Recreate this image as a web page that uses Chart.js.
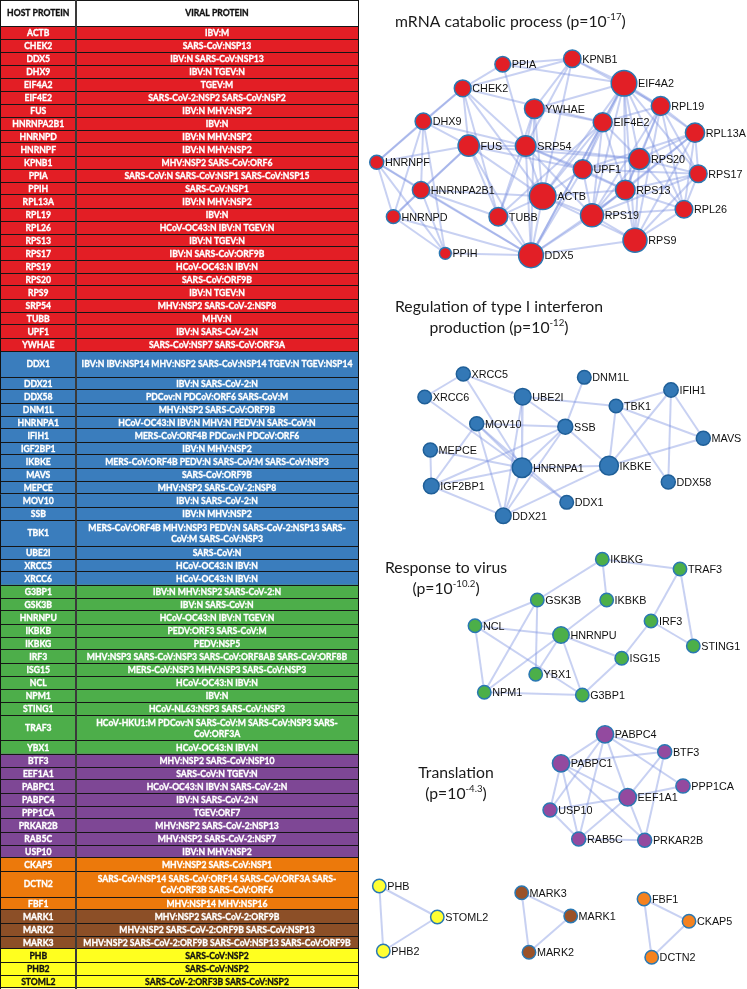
<!DOCTYPE html>
<html>
<head>
<meta charset="utf-8">
<script src="https://cdn.jsdelivr.net/npm/chart.js@4.4.1/dist/chart.umd.min.js"></script>
<style>
  html, body { margin: 0; padding: 0; background: #fff; }
  #page { position: relative; width: 747px; height: 989px; overflow: hidden; }
  #tableBox { position: absolute; left: 0; top: 0; width: 359px; height: 989px; }
  #netBox { position: absolute; left: 358px; top: 0; width: 389px; height: 989px; }
</style>
</head>
<body>
<div id="page">
  <div id="tableBox"><canvas id="tableChart"></canvas></div>
  <div id="netBox"><canvas id="netChart"></canvas></div>
</div>
<script>
// ---- table data ----
const hostProteins = [
  'ACTB', 'CHEK2', 'DDX5', 'DHX9', 'EIF4A2', 'EIF4E2', 'FUS', 'HNRNPA2B1', 'HNRNPD', 'HNRNPF', 'KPNB1', 'PPIA', 'PPIH',
  'RPL13A', 'RPL19', 'RPL26', 'RPS13', 'RPS17', 'RPS19', 'RPS20', 'RPS9', 'SRP54', 'TUBB', 'UPF1', 'YWHAE',
  'DDX1', 'DDX21', 'DDX58', 'DNM1L', 'HNRNPA1', 'IFIH1', 'IGF2BP1', 'IKBKE', 'MAVS', 'MEPCE', 'MOV10', 'SSB', 'TBK1',
  'UBE2I', 'XRCC5', 'XRCC6',
  'G3BP1', 'GSK3B', 'HNRNPU', 'IKBKB', 'IKBKG', 'IRF3', 'ISG15', 'NCL', 'NPM1', 'STING1', 'TRAF3', 'YBX1',
  'BTF3', 'EEF1A1', 'PABPC1', 'PABPC4', 'PPP1CA', 'PRKAR2B', 'RAB5C', 'USP10',
  'CKAP5', 'DCTN2', 'FBF1',
  'MARK1', 'MARK2', 'MARK3',
  'PHB', 'PHB2', 'STOML2'
];

const viralProteins = [
  'IBV:M', 'SARS-CoV:NSP13', 'IBV:N SARS-CoV:NSP13', 'IBV:N TGEV:N', 'TGEV:M', 'SARS-CoV-2:NSP2 SARS-CoV:NSP2',
  'IBV:N MHV:NSP2', 'IBV:N', 'IBV:N MHV:NSP2', 'IBV:N MHV:NSP2', 'MHV:NSP2 SARS-CoV:ORF6',
  'SARS-CoV:N SARS-CoV:NSP1 SARS-CoV:NSP15', 'SARS-CoV:NSP1', 'IBV:N MHV:NSP2', 'IBV:N', 'HCoV-OC43:N IBV:N TGEV:N',
  'IBV:N TGEV:N', 'IBV:N SARS-CoV:ORF9B', 'HCoV-OC43:N IBV:N', 'SARS-CoV:ORF9B', 'IBV:N TGEV:N',
  'MHV:NSP2 SARS-CoV-2:NSP8', 'MHV:N', 'IBV:N SARS-CoV-2:N', 'SARS-CoV:NSP7 SARS-CoV:ORF3A',
  'IBV:N IBV:NSP14 MHV:NSP2 SARS-CoV:NSP14 TGEV:N TGEV:NSP14', 'IBV:N SARS-CoV-2:N', 'PDCov:N PDCoV:ORF6 SARS-CoV:M',
  'MHV:NSP2 SARS-CoV:ORF9B', 'HCoV-OC43:N IBV:N MHV:N PEDV:N SARS-CoV:N', 'MERS-CoV:ORF4B PDCov:N PDCoV:ORF6',
  'IBV:N MHV:NSP2', 'MERS-CoV:ORF4B PEDV:N SARS-CoV:M SARS-CoV:NSP3', 'SARS-CoV:ORF9B', 'MHV:NSP2 SARS-CoV-2:NSP8',
  'IBV:N SARS-CoV-2:N', 'IBV:N MHV:NSP2', 'MERS-CoV:ORF4B MHV:NSP3 PEDV:N SARS-CoV-2:NSP13 SARS-\nCoV:M SARS-CoV:NSP3',
  'SARS-CoV:N', 'HCoV-OC43:N IBV:N', 'HCoV-OC43:N IBV:N',
  'IBV:N MHV:NSP2 SARS-CoV-2:N', 'IBV:N SARS-CoV:N', 'HCoV-OC43:N IBV:N TGEV:N', 'PEDV:ORF3 SARS-CoV:M', 'PEDV:NSP5',
  'MHV:NSP3 SARS-CoV:NSP3 SARS-CoV:ORF8AB SARS-CoV:ORF8B', 'MERS-CoV:NSP3 MHV:NSP3 SARS-CoV:NSP3', 'HCoV-OC43:N IBV:N',
  'IBV:N', 'HCoV-NL63:NSP3 SARS-CoV:NSP3', 'HCoV-HKU1:M PDCov:N SARS-CoV:M SARS-CoV:NSP3 SARS-\nCoV:ORF3A',
  'HCoV-OC43:N IBV:N',
  'MHV:NSP2 SARS-CoV:NSP10', 'SARS-CoV:N TGEV:N', 'HCoV-OC43:N IBV:N SARS-CoV-2:N', 'IBV:N SARS-CoV-2:N', 'TGEV:ORF7',
  'MHV:NSP2 SARS-CoV-2:NSP13', 'MHV:NSP2 SARS-CoV-2:NSP7', 'IBV:N MHV:NSP2',
  'MHV:NSP2 SARS-CoV:NSP1', 'SARS-CoV:NSP14 SARS-CoV:ORF14 SARS-CoV:ORF3A SARS-\nCoV:ORF3B SARS-CoV:ORF6',
  'MHV:NSP14 MHV:NSP16',
  'MHV:NSP2 SARS-CoV-2:ORF9B', 'MHV:NSP2 SARS-CoV-2:ORF9B SARS-CoV:NSP13',
  'MHV:NSP2 SARS-CoV-2:ORF9B SARS-CoV:NSP13 SARS-CoV:ORF9B',
  'SARS-CoV:NSP2', 'SARS-CoV:NSP2', 'SARS-CoV-2:ORF3B SARS-CoV:NSP2'
];

const tableHeaders = ['HOST PROTEIN', 'VIRAL PROTEIN'];
const clusterNames = ['red', 'blue', 'green', 'purple', 'orange', 'brown', 'yellow'];
const clusterSizes = [25, 16, 12, 8, 3, 3, 3];
const doubleRows = ['DDX1', 'TBK1', 'TRAF3', 'DCTN2'];

// ---- network data: [name, x, y, size] ----
const mrnaNodes = [
  ['PPIA', 502.7, 64.3, 7.8], ['KPNB1', 572.3, 58.7, 8.7], ['EIF4A2', 624, 83.3, 12.8], ['CHEK2', 462.7, 88.3, 8.4],
  ['YWHAE', 534.3, 108.7, 9.8], ['RPL19', 660.7, 106, 9.4], ['DHX9', 423.3, 121.3, 8.2], ['EIF4E2', 602.7, 122.3, 9.5],
  ['RPL13A', 695, 132.7, 9.6], ['FUS', 468.7, 145.7, 10.6], ['SRP54', 525.7, 146, 10.3], ['RPS20', 639.3, 159, 10.4],
  ['HNRNPF', 376.7, 162.3, 7], ['UPF1', 582.7, 169.3, 9.5], ['RPS17', 698.3, 173.7, 8.8], ['HNRNPA2B1', 421, 190, 8.6],
  ['RPS13', 625.3, 190, 9.8], ['ACTB', 542.7, 196.3, 13.3], ['RPL26', 684, 209.3, 8.8], ['HNRNPD', 393.3, 216.7, 6.9],
  ['TUBB', 498.3, 216.7, 9.3], ['RPS19', 592, 215.3, 11.5], ['RPS9', 635, 240.3, 12], ['PPIH', 445.3, 253.3, 5.9],
  ['DDX5', 531, 255.3, 12.4]
];
const mrnaEdges = [
  ['PPIA', 'KPNB1'], ['PPIA', 'CHEK2'], ['PPIA', 'EIF4A2'], ['PPIA', 'SRP54'], ['KPNB1', 'EIF4A2'], ['KPNB1', 'CHEK2'],
  ['KPNB1', 'YWHAE'], ['KPNB1', 'SRP54'], ['KPNB1', 'RPL19'], ['KPNB1', 'ACTB'], ['CHEK2', 'DHX9'], ['CHEK2', 'EIF4E2'],
  ['CHEK2', 'FUS'], ['CHEK2', 'HNRNPF'], ['CHEK2', 'ACTB'], ['CHEK2', 'SRP54'], ['CHEK2', 'TUBB'], ['DHX9', 'HNRNPF'],
  ['DHX9', 'FUS'], ['DHX9', 'HNRNPA2B1'], ['DHX9', 'HNRNPD'], ['DHX9', 'PPIH'], ['DHX9', 'SRP54'], ['HNRNPF', 'FUS'],
  ['HNRNPF', 'HNRNPA2B1'], ['HNRNPF', 'HNRNPD'], ['HNRNPF', 'PPIH'], ['HNRNPF', 'DDX5'], ['HNRNPA2B1', 'FUS'],
  ['HNRNPA2B1', 'HNRNPD'], ['HNRNPA2B1', 'PPIH'], ['HNRNPA2B1', 'DDX5'], ['HNRNPA2B1', 'ACTB'], ['HNRNPA2B1', 'TUBB'],
  ['HNRNPD', 'FUS'], ['HNRNPD', 'PPIH'], ['HNRNPD', 'DDX5'], ['FUS', 'SRP54'], ['FUS', 'ACTB'], ['FUS', 'TUBB'],
  ['FUS', 'DDX5'], ['FUS', 'UPF1'], ['FUS', 'RPS20'], ['YWHAE', 'EIF4A2'], ['YWHAE', 'SRP54'], ['YWHAE', 'EIF4E2'],
  ['YWHAE', 'ACTB'], ['YWHAE', 'TUBB'], ['YWHAE', 'DDX5'], ['EIF4A2', 'EIF4E2'], ['EIF4A2', 'RPL19'], ['EIF4A2', 'RPL13A'],
  ['EIF4A2', 'RPS20'], ['EIF4A2', 'UPF1'], ['EIF4A2', 'RPS13'], ['EIF4A2', 'RPS19'], ['EIF4A2', 'RPS9'], ['EIF4A2', 'ACTB'],
  ['EIF4A2', 'DDX5'], ['EIF4A2', 'RPS17'], ['EIF4A2', 'RPL26'], ['EIF4E2', 'RPL19'], ['EIF4E2', 'RPS20'], ['EIF4E2', 'UPF1'],
  ['EIF4E2', 'ACTB'], ['EIF4E2', 'RPS13'], ['EIF4E2', 'RPS19'], ['EIF4E2', 'DDX5'], ['EIF4E2', 'TUBB'], ['RPL19', 'RPL13A'],
  ['RPL19', 'RPS20'], ['RPL19', 'RPS17'], ['RPL19', 'RPS13'], ['RPL19', 'RPS19'], ['RPL19', 'RPS9'], ['RPL19', 'RPL26'],
  ['RPL13A', 'RPS20'], ['RPL13A', 'RPS17'], ['RPL13A', 'RPS13'], ['RPL13A', 'RPS19'], ['RPL13A', 'RPS9'], ['RPL13A', 'RPL26'],
  ['RPL13A', 'UPF1'], ['RPS20', 'RPS17'], ['RPS20', 'RPS13'], ['RPS20', 'RPS19'], ['RPS20', 'RPS9'], ['RPS20', 'RPL26'],
  ['RPS20', 'UPF1'], ['RPS17', 'RPS13'], ['RPS17', 'RPS19'], ['RPS17', 'RPS9'], ['RPS17', 'RPL26'], ['RPS17', 'UPF1'],
  ['RPS13', 'RPS19'], ['RPS13', 'RPS9'], ['RPS13', 'RPL26'], ['RPS13', 'UPF1'], ['RPS19', 'RPS9'], ['RPS19', 'RPL26'],
  ['RPS19', 'UPF1'], ['RPS19', 'ACTB'], ['RPS9', 'RPL26'], ['RPS9', 'DDX5'], ['RPS9', 'ACTB'], ['UPF1', 'SRP54'],
  ['UPF1', 'ACTB'], ['UPF1', 'DDX5'], ['SRP54', 'ACTB'], ['SRP54', 'TUBB'], ['SRP54', 'DDX5'], ['SRP54', 'RPS19'],
  ['SRP54', 'RPS13'], ['SRP54', 'RPS20'], ['ACTB', 'TUBB'], ['ACTB', 'DDX5'], ['ACTB', 'RPS13'], ['TUBB', 'DDX5'],
  ['PPIH', 'DDX5'], ['DDX5', 'RPS19'], ['DDX5', 'RPS13']
];

const ifnNodes = [
  ['XRCC5', 463.3, 374, 7], ['DNM1L', 584.3, 377.3, 6.8], ['XRCC6', 424.7, 397, 6.8], ['UBE2I', 522.7, 396.7, 8.3],
  ['IFIH1', 671, 390, 7.2], ['TBK1', 616, 406, 6.8], ['MOV10', 476.7, 423.7, 7], ['SSB', 565.3, 426.7, 7.5],
  ['MAVS', 703.3, 438.3, 7], ['MEPCE', 430.3, 450, 7], ['HNRNPA1', 522, 467.7, 9.8], ['IKBKE', 609, 465.7, 9.4],
  ['IGF2BP1', 431.3, 486, 7.8], ['DDX58', 668.3, 482, 7], ['DDX1', 566.7, 502.3, 6.8], ['DDX21', 503.3, 515.7, 7.8]
];
const ifnEdges = [
  ['XRCC5', 'XRCC6'], ['XRCC5', 'UBE2I'], ['XRCC5', 'HNRNPA1'], ['XRCC6', 'HNRNPA1'], ['UBE2I', 'SSB'], ['UBE2I', 'TBK1'],
  ['UBE2I', 'HNRNPA1'], ['UBE2I', 'DDX21'], ['DNM1L', 'SSB'], ['MOV10', 'SSB'], ['MOV10', 'HNRNPA1'], ['MOV10', 'IGF2BP1'],
  ['MOV10', 'DDX1'], ['MOV10', 'DDX21'], ['SSB', 'HNRNPA1'], ['SSB', 'IGF2BP1'], ['SSB', 'DDX21'], ['SSB', 'IKBKE'],
  ['MEPCE', 'IGF2BP1'], ['MEPCE', 'HNRNPA1'], ['IGF2BP1', 'HNRNPA1'], ['IGF2BP1', 'DDX21'], ['HNRNPA1', 'DDX21'],
  ['HNRNPA1', 'DDX1'], ['HNRNPA1', 'IKBKE'], ['DDX21', 'IKBKE'], ['TBK1', 'IFIH1'], ['TBK1', 'IKBKE'], ['TBK1', 'DDX58'],
  ['TBK1', 'MAVS'], ['IFIH1', 'IKBKE'], ['IFIH1', 'MAVS'], ['IFIH1', 'DDX58'], ['IKBKE', 'MAVS']
];

const virusNodes = [
  ['IKBKG', 602.3, 559.3, 6.7], ['TRAF3', 680, 569, 6.7], ['GSK3B', 537.3, 600, 6.7], ['IKBKB', 606.7, 600, 6.7],
  ['IRF3', 651, 621, 6.7], ['NCL', 475, 625.7, 6.7], ['HNRNPU', 561, 635, 8.2], ['STING1', 693.3, 646, 6.7],
  ['ISG15', 621.7, 658.3, 6.7], ['YBX1', 535.7, 674.3, 6.7], ['NPM1', 484.3, 692.3, 6.7], ['G3BP1', 582.3, 695, 6.7]
];
const virusEdges = [
  ['IKBKG', 'TRAF3'], ['IKBKG', 'GSK3B'], ['IKBKG', 'IKBKB'], ['IKBKB', 'HNRNPU'], ['TRAF3', 'IRF3'], ['TRAF3', 'STING1'],
  ['IRF3', 'STING1'], ['IRF3', 'ISG15'], ['GSK3B', 'NCL'], ['GSK3B', 'YBX1'], ['GSK3B', 'NPM1'], ['NCL', 'HNRNPU'],
  ['NCL', 'NPM1'], ['NCL', 'G3BP1'], ['HNRNPU', 'ISG15'], ['HNRNPU', 'YBX1'], ['HNRNPU', 'NPM1'], ['HNRNPU', 'G3BP1'],
  ['NPM1', 'G3BP1'], ['ISG15', 'G3BP1']
];

const transNodes = [
  ['PABPC4', 605, 734.3, 8.6], ['BTF3', 664.7, 751.7, 7], ['PABPC1', 561, 763.3, 8.6], ['PPP1CA', 683, 786, 7.1],
  ['EEF1A1', 627.7, 797.3, 8.7], ['USP10', 550, 810, 7], ['RAB5C', 578.7, 839, 7], ['PRKAR2B', 644.7, 840.3, 7]
];
const transEdges = [
  ['PABPC4', 'PABPC1'], ['PABPC4', 'BTF3'], ['PABPC4', 'EEF1A1'], ['PABPC4', 'PPP1CA'], ['PABPC4', 'RAB5C'],
  ['PABPC4', 'USP10'], ['PABPC1', 'BTF3'], ['PABPC1', 'EEF1A1'], ['PABPC1', 'USP10'], ['PABPC1', 'RAB5C'],
  ['PABPC1', 'PRKAR2B'], ['BTF3', 'EEF1A1'], ['BTF3', 'PRKAR2B'], ['EEF1A1', 'PPP1CA'], ['EEF1A1', 'USP10'],
  ['EEF1A1', 'RAB5C'], ['EEF1A1', 'PRKAR2B'], ['USP10', 'RAB5C'], ['RAB5C', 'PRKAR2B']
];

const phbNodes = [['PHB', 379.3, 886, 6.7], ['STOML2', 437.3, 917, 6.7], ['PHB2', 383.3, 951, 6.7]];
const phbEdges = [['PHB', 'STOML2'], ['PHB', 'PHB2'], ['PHB2', 'STOML2']];
const markNodes = [['MARK3', 521.7, 892.7, 6.7], ['MARK1', 570.7, 916, 6.7], ['MARK2', 529, 952.3, 6.7]];
const markEdges = [['MARK3', 'MARK1'], ['MARK3', 'MARK2'], ['MARK1', 'MARK2']];
const ckapNodes = [['FBF1', 644, 899, 6.7], ['CKAP5', 689, 921.3, 6.7], ['DCTN2', 651.7, 957.3, 6.7]];
const ckapEdges = [['FBF1', 'CKAP5'], ['FBF1', 'DCTN2'], ['CKAP5', 'DCTN2']];

const panelTitles = [
  { lines: [['mRNA catabolic process (p=10', '-17', ')']], x: 395, y: 22, align: 'left' },
  { lines: [['Regulation of type I interferon'], ['production (p=10', '-12', ')']], x: 499, y: 307, align: 'center' },
  { lines: [['Response to virus'], ['(p=10', '-10.2', ')']], x: 446, y: 568, align: 'center' },
  { lines: [['Translation'], ['(p=10', '-4.3', ')']], x: 456, y: 773, align: 'center' }
];

// ---- styles ----
const tableFill = {
  header: '#ffffff', red: '#e31e25', blue: '#3a7dbd', green: '#4dae4a', purple: '#7e4795',
  orange: '#ec790b', brown: '#8c4f27', yellow: '#ffff1f'
};
const nodeFill = {
  red: '#e21f26', blue: '#3378b6', green: '#4caf49', purple: '#934a9f',
  orange: '#f5821f', brown: '#9a5229', yellow: '#ffff33'
};
const edgeColor = 'rgba(125, 145, 225, 0.42)';
const nodeBorder = '#2a78b3';

// ---- table chart ----
const rowCluster = [];
clusterSizes.forEach((n, g) => { for (let i = 0; i < n; i++) rowCluster.push(clusterNames[g]); });

const headerUnits = 2;
const rowUnits = hostProteins.map(h => doubleRows.includes(h) ? 2 : 1);
const rowCenters = [];
const rowEdges = [0, headerUnits];
let acc = headerUnits;
rowUnits.forEach(u => { rowCenters.push(acc + u / 2); acc += u; rowEdges.push(acc); });
const totalUnits = acc;
const colEdges = [0, 76, 358];

// the canvas is one pixel taller than the table so the closing rule stays visible
const tableBox = document.getElementById('tableBox');
const unitPx = (tableBox.clientHeight - 1) / totalUnits;
const yMax = tableBox.clientHeight / unitPx;

function cellDataset(units, col) {
  const pts = [];
  hostProteins.forEach((h, i) => {
    if (rowUnits[i] !== units) return;
    pts.push({ y: rowCenters[i], x: [colEdges[col], colEdges[col + 1]],
               text: col ? viralProteins[i] : h, cluster: rowCluster[i] });
  });
  return {
    data: pts,
    barThickness: units * unitPx,
    grouped: false,
    borderWidth: 0,
    backgroundColor: c => tableFill[c.raw ? c.raw.cluster : 'red']
  };
}

const headerDataset = {
  data: tableHeaders.map((t, col) => ({ y: headerUnits / 2, x: [colEdges[col], colEdges[col + 1]], text: t, cluster: 'header' })),
  barThickness: headerUnits * unitPx,
  grouped: false,
  borderWidth: 0,
  backgroundColor: '#ffffff'
};

const cellFont = 'bold 9.4px Lato';
const cellText = {
  id: 'cellText',
  afterDatasetsDraw(chart) {
    const ctx = chart.ctx;
    ctx.save();
    ctx.font = cellFont;
    const squeeze = 185 / ctx.measureText('SARS-CoV:N SARS-CoV:NSP1 SARS-CoV:NSP15').width;
    ctx.textAlign = 'center';
    ctx.textBaseline = 'middle';
    ctx.lineWidth = 0.35;
    chart.data.datasets.forEach((ds, di) => {
      const meta = chart.getDatasetMeta(di);
      meta.data.forEach((bar, i) => {
        const raw = ds.data[i];
        const lines = raw.text.split('\n');
        const cx = (bar.x + bar.base) / 2;
        const ink = (raw.cluster === 'yellow' || raw.cluster === 'header') ? '#111' : '#fff';
        ctx.fillStyle = ink;
        ctx.strokeStyle = ink;
        lines.forEach((line, li) => {
          const dy = (li - (lines.length - 1) / 2) * 11.6;
          ctx.save();
          ctx.translate(cx, bar.y + dy + 0.4);
          ctx.scale(squeeze, 1);
          ctx.fillText(line, 0, 0);
          ctx.strokeText(line, 0, 0);
          ctx.restore();
        });
      });
    });
    ctx.restore();
  }
};

new Chart(document.getElementById('tableChart'), {
  type: 'bar',
  data: { datasets: [headerDataset, cellDataset(1, 0), cellDataset(1, 1), cellDataset(2, 0), cellDataset(2, 1)] },
  options: {
    indexAxis: 'y',
    animation: false,
    responsive: true,
    maintainAspectRatio: false,
    events: [],
    layout: { padding: 0, autoPadding: false },
    scales: {
      x: {
        type: 'linear', min: 0, max: 359, offset: false,
        ticks: { display: false },
        border: { display: false },
        grid: {
          z: 2, drawTicks: false, offset: false,
          color: c => (c.tick && c.tick.value === colEdges[1]) ? '#3a3a3a' : '#111',
          lineWidth: c => (c.tick && c.tick.value === colEdges[1]) ? 2 : 1
        },
        afterBuildTicks: axis => { axis.ticks = colEdges.map(v => ({ value: v })); }
      },
      y: {
        type: 'linear', min: 0, max: yMax, reverse: true, offset: false,
        ticks: { display: false },
        border: { display: false },
        grid: { z: 1, drawTicks: false, offset: false, color: '#161616', lineWidth: 1 },
        afterBuildTicks: axis => { axis.ticks = rowEdges.map(v => ({ value: v })); }
      }
    },
    plugins: { legend: { display: false }, tooltip: { enabled: false } }
  },
  plugins: [cellText]
});

// ---- network chart ----
const networks = [
  { nodes: mrnaNodes, edges: mrnaEdges, cluster: 'red' },
  { nodes: ifnNodes, edges: ifnEdges, cluster: 'blue' },
  { nodes: virusNodes, edges: virusEdges, cluster: 'green' },
  { nodes: transNodes, edges: transEdges, cluster: 'purple' },
  { nodes: phbNodes, edges: phbEdges, cluster: 'yellow' },
  { nodes: markNodes, edges: markEdges, cluster: 'brown' },
  { nodes: ckapNodes, edges: ckapEdges, cluster: 'orange' }
];

const netDatasets = [];
networks.forEach(net => {
  const pos = {};
  net.nodes.forEach(n => { pos[n[0]] = { x: n[1], y: n[2] }; });
  net.edges.forEach(e => {
    netDatasets.push({
      type: 'scatter',
      showLine: true,
      data: [pos[e[0]], pos[e[1]]],
      borderColor: edgeColor,
      borderWidth: 2,
      pointRadius: 0,
      order: 2,
      clip: false
    });
  });
  netDatasets.push({
    type: 'scatter',
    isNode: true,
    data: net.nodes.map(n => ({ x: n[1], y: n[2], name: n[0] })),
    pointRadius: net.nodes.map(n => n[3]),
    backgroundColor: nodeFill[net.cluster],
    borderColor: net.cluster === 'blue' ? '#1f5f98' : nodeBorder,
    borderWidth: 1.5,
    order: 1,
    clip: false
  });
});

const nodeLabels = {
  id: 'nodeLabels',
  afterDatasetsDraw(chart) {
    const ctx = chart.ctx;
    ctx.save();
    ctx.font = '10.8px "Liberation Sans", Arial, sans-serif';
    ctx.fillStyle = '#111';
    ctx.textAlign = 'left';
    ctx.textBaseline = 'middle';
    chart.data.datasets.forEach((ds, di) => {
      if (!ds.isNode) return;
      chart.getDatasetMeta(di).data.forEach((pt, i) => {
        ctx.fillText(ds.data[i].name, pt.x + ds.pointRadius[i] + 1.2, pt.y + 1);
      });
    });
    ctx.restore();
  }
};

const titleFont = '15.5px Lato';
const supFont = '9.5px Lato';
const titleDrawer = {
  id: 'titleDrawer',
  afterDraw(chart) {
    const ctx = chart.ctx;
    const sx = chart.scales.x, sy = chart.scales.y;
    ctx.save();
    ctx.font = titleFont;
    const squeeze = 208 / ctx.measureText('Regulation of type I interferon').width;
    ctx.fillStyle = '#1a1a1a';
    ctx.textBaseline = 'middle';
    ctx.textAlign = 'left';
    panelTitles.forEach(t => {
      t.lines.forEach((parts, li) => {
        const widths = parts.map((p, k) => { ctx.font = k === 1 ? supFont : titleFont; return ctx.measureText(p).width * squeeze; });
        const total = widths.reduce((a, b) => a + b, 0);
        let x = sx.getPixelForValue(t.x) - (t.align === 'center' ? total / 2 : 0);
        const y = sy.getPixelForValue(t.y + li * 20.5);
        parts.forEach((p, k) => {
          ctx.font = k === 1 ? supFont : titleFont;
          ctx.save();
          ctx.translate(x, k === 1 ? y - 5 : y);
          ctx.scale(squeeze, 1);
          ctx.fillText(p, 0, 0);
          ctx.restore();
          x += widths[k];
        });
      });
    });
    ctx.restore();
  }
};

new Chart(document.getElementById('netChart'), {
  type: 'scatter',
  data: { datasets: netDatasets },
  options: {
    animation: false,
    responsive: true,
    maintainAspectRatio: false,
    events: [],
    layout: { padding: 0, autoPadding: false },
    scales: {
      x: { type: 'linear', min: 358, max: 747, display: false },
      y: { type: 'linear', min: 0, max: 989, reverse: true, display: false }
    },
    plugins: { legend: { display: false }, tooltip: { enabled: false } }
  },
  plugins: [nodeLabels, titleDrawer]
});
</script>
</body>
</html>
